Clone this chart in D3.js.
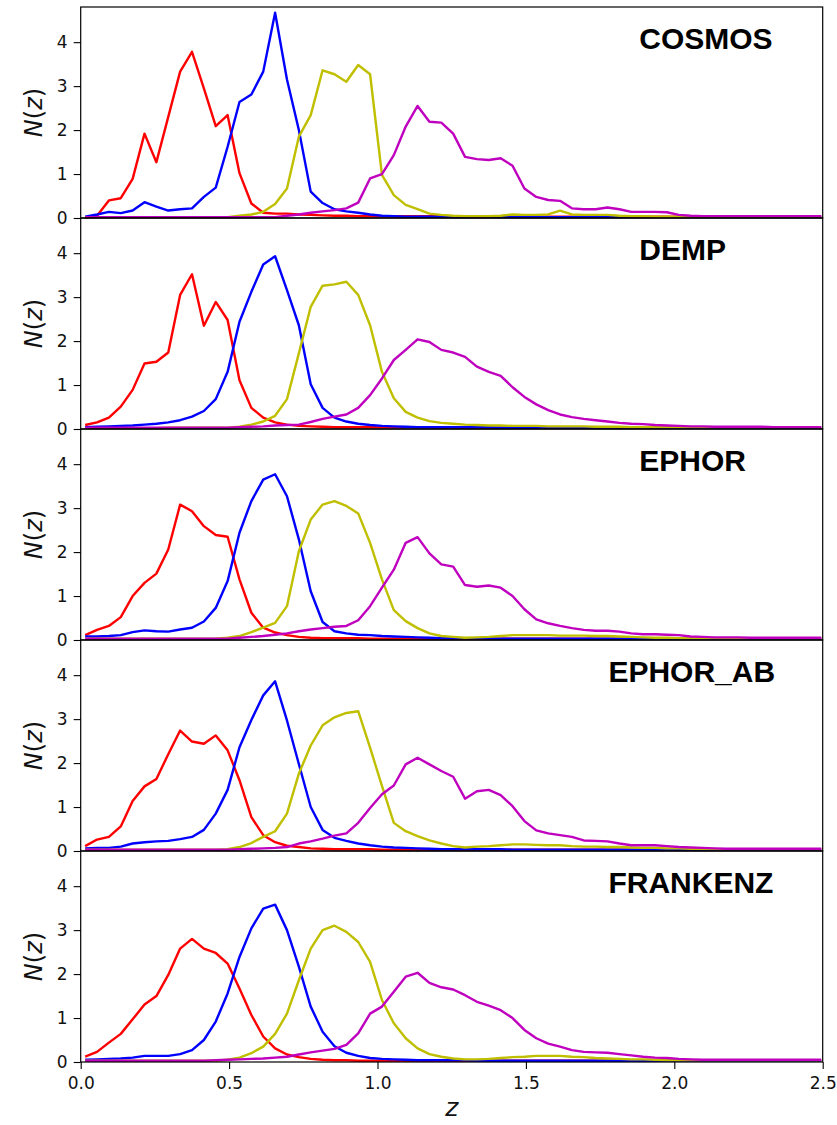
<!DOCTYPE html>
<html>
<head>
<meta charset="utf-8">
<script src="https://cdn.jsdelivr.net/npm/d3@7"></script>
<style>
	body { margin: 0; background: #fff; }
</style>
</head>
<body>
<svg id="nzPlot"></svg>
<script>
// surveys, one panel each, top to bottom
const surveys = ["COSMOS", "DEMP", "EPHOR", "EPHOR_AB", "FRANKENZ"];

// redshift bin centres
const binStart = 0.015, binWidth = 0.04, nBins = 63;
const zBins = d3.range(nBins).map(k => binStart + binWidth * k);

const yTicks = [0, 1, 2, 3, 4];
const xTicks = [0, 0.5, 1.0, 1.5, 2.0, 2.5];

// N(z) per tomographic bin
const cosmosRed = [
	0.01, 0.05, 0.40, 0.45, 0.89, 1.92, 1.27, 2.30, 3.33, 3.78,
	2.95, 2.09, 2.34, 1.02, 0.33, 0.12, 0.10, 0.10, 0.08, 0.07,
	0.06, 0.05, 0.05, 0.04, 0.04, 0.04, 0.04, 0.04, 0.04, 0.04,
	0.04, 0.03, 0.03, 0.03, 0.03, 0.03, 0.03, 0.03, 0.03, 0.03,
	0.03, 0.03, 0.03, 0.03, 0.03, 0.03, 0.03, 0.03, 0.03, 0.03,
	0.03, 0.03, 0.03, 0.03, 0.03, 0.03, 0.03, 0.03, 0.03, 0.03,
	0.03, 0.03, 0.04];
const cosmosBlue = [
	0.03, 0.08, 0.14, 0.11, 0.17, 0.36, 0.26, 0.17, 0.20, 0.22,
	0.48, 0.69, 1.62, 2.64, 2.81, 3.33, 4.67, 3.15, 2.00, 0.60,
	0.34, 0.20, 0.15, 0.12, 0.08, 0.05, 0.04, 0.03, 0.03, 0.03,
	0.03, 0.02, 0.02, 0.02, 0.02, 0.02, 0.02, 0.02, 0.02, 0.02,
	0.02, 0.02, 0.02, 0.02, 0.02, 0.02, 0.02, 0.02, 0.02, 0.02,
	0.02, 0.02, 0.02, 0.02, 0.02, 0.02, 0.02, 0.02, 0.02, 0.02,
	0.02, 0.02, 0.02];
const cosmosYellow = [
	0.02, 0.02, 0.02, 0.02, 0.02, 0.02, 0.02, 0.02, 0.02, 0.02,
	0.02, 0.02, 0.02, 0.05, 0.08, 0.14, 0.32, 0.67, 1.85, 2.34,
	3.36, 3.27, 3.10, 3.48, 3.27, 0.98, 0.52, 0.30, 0.20, 0.10,
	0.07, 0.05, 0.04, 0.04, 0.04, 0.05, 0.08, 0.07, 0.07, 0.08,
	0.17, 0.08, 0.07, 0.07, 0.07, 0.05, 0.04, 0.04, 0.03, 0.03,
	0.03, 0.03, 0.03, 0.03, 0.03, 0.03, 0.03, 0.03, 0.03, 0.03,
	0.03, 0.03, 0.03];
const cosmosMagenta = [
	0.02, 0.02, 0.02, 0.02, 0.02, 0.02, 0.02, 0.02, 0.02, 0.02,
	0.02, 0.02, 0.02, 0.02, 0.02, 0.02, 0.02, 0.05, 0.08, 0.12,
	0.15, 0.18, 0.22, 0.35, 0.90, 1.00, 1.43, 2.08, 2.55, 2.19,
	2.17, 1.92, 1.39, 1.34, 1.32, 1.36, 1.19, 0.67, 0.48, 0.41,
	0.39, 0.22, 0.20, 0.20, 0.24, 0.20, 0.14, 0.14, 0.14, 0.13,
	0.07, 0.05, 0.04, 0.04, 0.04, 0.04, 0.04, 0.04, 0.04, 0.04,
	0.04, 0.04, 0.04];

const dempRed = [
	0.09, 0.15, 0.26, 0.51, 0.89, 1.49, 1.53, 1.74, 3.05, 3.52,
	2.35, 2.89, 2.48, 1.11, 0.48, 0.26, 0.15, 0.10, 0.07, 0.06,
	0.05, 0.04, 0.04, 0.04, 0.04, 0.04, 0.04, 0.04, 0.04, 0.04,
	0.03, 0.03, 0.03, 0.03, 0.03, 0.03, 0.03, 0.03, 0.03, 0.03,
	0.03, 0.03, 0.03, 0.03, 0.03, 0.03, 0.03, 0.03, 0.03, 0.03,
	0.03, 0.03, 0.03, 0.03, 0.03, 0.03, 0.03, 0.03, 0.03, 0.03,
	0.03, 0.03, 0.03];
const dempBlue = [
	0.04, 0.05, 0.06, 0.07, 0.08, 0.10, 0.12, 0.15, 0.20, 0.28,
	0.41, 0.68, 1.30, 2.44, 3.12, 3.74, 3.93, 3.16, 2.36, 1.02,
	0.48, 0.26, 0.17, 0.12, 0.09, 0.07, 0.06, 0.05, 0.04, 0.04,
	0.04, 0.04, 0.04, 0.04, 0.04, 0.03, 0.03, 0.03, 0.03, 0.03,
	0.03, 0.03, 0.03, 0.03, 0.03, 0.03, 0.03, 0.03, 0.03, 0.03,
	0.03, 0.03, 0.03, 0.03, 0.03, 0.03, 0.03, 0.03, 0.03, 0.03,
	0.03, 0.03, 0.03];
const dempYellow = [
	0.02, 0.02, 0.02, 0.02, 0.02, 0.02, 0.02, 0.03, 0.03, 0.03,
	0.03, 0.03, 0.03, 0.05, 0.10, 0.17, 0.30, 0.68, 1.72, 2.78,
	3.26, 3.29, 3.35, 3.05, 2.36, 1.30, 0.70, 0.39, 0.26, 0.18,
	0.14, 0.12, 0.10, 0.09, 0.08, 0.08, 0.07, 0.07, 0.07, 0.06,
	0.06, 0.06, 0.06, 0.05, 0.05, 0.05, 0.04, 0.04, 0.04, 0.04,
	0.04, 0.04, 0.04, 0.04, 0.04, 0.04, 0.04, 0.04, 0.04, 0.04,
	0.04, 0.04, 0.04];
const dempMagenta = [
	0.03, 0.03, 0.03, 0.03, 0.03, 0.03, 0.03, 0.03, 0.03, 0.03,
	0.03, 0.03, 0.03, 0.04, 0.05, 0.06, 0.08, 0.09, 0.10, 0.16,
	0.23, 0.28, 0.33, 0.48, 0.77, 1.15, 1.57, 1.80, 2.04, 1.98,
	1.80, 1.74, 1.64, 1.42, 1.30, 1.21, 0.95, 0.73, 0.56, 0.43,
	0.33, 0.27, 0.23, 0.20, 0.17, 0.14, 0.12, 0.11, 0.09, 0.08,
	0.07, 0.06, 0.06, 0.05, 0.05, 0.05, 0.05, 0.05, 0.04, 0.04,
	0.04, 0.04, 0.04];

const ephorRed = [
	0.11, 0.23, 0.32, 0.52, 1.00, 1.30, 1.51, 2.06, 3.08, 2.93,
	2.59, 2.39, 2.35, 1.38, 0.62, 0.28, 0.17, 0.11, 0.07, 0.05,
	0.04, 0.04, 0.04, 0.04, 0.03, 0.03, 0.03, 0.03, 0.03, 0.03,
	0.03, 0.03, 0.03, 0.03, 0.03, 0.03, 0.03, 0.03, 0.03, 0.03,
	0.03, 0.03, 0.03, 0.03, 0.03, 0.03, 0.03, 0.03, 0.03, 0.03,
	0.03, 0.03, 0.03, 0.03, 0.03, 0.03, 0.03, 0.03, 0.03, 0.03,
	0.03, 0.03, 0.03];
const ephorBlue = [
	0.08, 0.08, 0.09, 0.11, 0.18, 0.22, 0.20, 0.19, 0.24, 0.28,
	0.42, 0.73, 1.34, 2.44, 3.16, 3.65, 3.77, 3.27, 2.29, 1.11,
	0.41, 0.20, 0.15, 0.12, 0.11, 0.09, 0.08, 0.07, 0.06, 0.05,
	0.04, 0.04, 0.04, 0.04, 0.04, 0.03, 0.03, 0.03, 0.03, 0.03,
	0.03, 0.03, 0.03, 0.03, 0.03, 0.03, 0.03, 0.03, 0.03, 0.03,
	0.03, 0.03, 0.03, 0.03, 0.03, 0.03, 0.03, 0.03, 0.03, 0.03,
	0.03, 0.03, 0.03];
const ephorYellow = [
	0.03, 0.03, 0.03, 0.03, 0.03, 0.03, 0.03, 0.03, 0.03, 0.03,
	0.03, 0.03, 0.05, 0.09, 0.18, 0.28, 0.39, 0.77, 2.02, 2.74,
	3.08, 3.16, 3.05, 2.88, 2.21, 1.38, 0.68, 0.43, 0.27, 0.15,
	0.09, 0.07, 0.05, 0.06, 0.07, 0.09, 0.11, 0.11, 0.11, 0.11,
	0.10, 0.10, 0.10, 0.09, 0.09, 0.08, 0.07, 0.06, 0.05, 0.05,
	0.04, 0.04, 0.04, 0.04, 0.04, 0.04, 0.04, 0.04, 0.04, 0.04,
	0.04, 0.04, 0.04];
const ephorMagenta = [
	0.03, 0.03, 0.03, 0.03, 0.03, 0.03, 0.03, 0.03, 0.03, 0.03,
	0.03, 0.03, 0.03, 0.05, 0.07, 0.09, 0.12, 0.15, 0.20, 0.24,
	0.27, 0.30, 0.32, 0.45, 0.77, 1.19, 1.60, 2.21, 2.34, 1.97,
	1.72, 1.67, 1.25, 1.21, 1.24, 1.19, 1.00, 0.70, 0.47, 0.38,
	0.32, 0.27, 0.23, 0.21, 0.21, 0.19, 0.15, 0.13, 0.13, 0.12,
	0.11, 0.08, 0.07, 0.06, 0.06, 0.06, 0.05, 0.05, 0.05, 0.05,
	0.05, 0.05, 0.05];

const ephorAbRed = [
	0.11, 0.26, 0.32, 0.56, 1.14, 1.47, 1.64, 2.20, 2.74, 2.49,
	2.44, 2.63, 2.29, 1.61, 0.77, 0.36, 0.20, 0.12, 0.09, 0.06,
	0.05, 0.04, 0.04, 0.04, 0.04, 0.03, 0.03, 0.03, 0.03, 0.03,
	0.03, 0.03, 0.03, 0.03, 0.03, 0.03, 0.03, 0.03, 0.03, 0.03,
	0.03, 0.03, 0.03, 0.03, 0.03, 0.03, 0.03, 0.03, 0.03, 0.03,
	0.03, 0.03, 0.03, 0.03, 0.03, 0.03, 0.03, 0.03, 0.03, 0.03,
	0.03, 0.03, 0.03];
const ephorAbBlue = [
	0.06, 0.07, 0.07, 0.10, 0.17, 0.20, 0.22, 0.23, 0.27, 0.32,
	0.48, 0.85, 1.39, 2.36, 2.98, 3.54, 3.86, 2.97, 1.98, 1.00,
	0.48, 0.30, 0.23, 0.17, 0.13, 0.10, 0.08, 0.07, 0.06, 0.05,
	0.04, 0.04, 0.04, 0.04, 0.04, 0.04, 0.03, 0.03, 0.03, 0.03,
	0.03, 0.03, 0.03, 0.03, 0.03, 0.03, 0.03, 0.03, 0.03, 0.03,
	0.03, 0.03, 0.03, 0.03, 0.03, 0.03, 0.03, 0.03, 0.03, 0.03,
	0.03, 0.03, 0.03];
const ephorAbYellow = [
	0.03, 0.03, 0.03, 0.03, 0.03, 0.03, 0.03, 0.03, 0.03, 0.03,
	0.03, 0.03, 0.04, 0.09, 0.18, 0.32, 0.45, 0.85, 1.76, 2.40,
	2.86, 3.04, 3.14, 3.18, 2.35, 1.48, 0.64, 0.45, 0.34, 0.24,
	0.17, 0.11, 0.08, 0.10, 0.11, 0.13, 0.15, 0.15, 0.14, 0.13,
	0.13, 0.11, 0.10, 0.10, 0.09, 0.09, 0.08, 0.07, 0.07, 0.06,
	0.06, 0.05, 0.05, 0.04, 0.04, 0.04, 0.04, 0.04, 0.04, 0.04,
	0.04, 0.04, 0.04];
const ephorAbMagenta = [
	0.03, 0.03, 0.03, 0.03, 0.03, 0.03, 0.03, 0.03, 0.03, 0.03,
	0.03, 0.03, 0.03, 0.04, 0.05, 0.06, 0.07, 0.09, 0.17, 0.22,
	0.28, 0.35, 0.40, 0.64, 0.98, 1.29, 1.49, 1.97, 2.12, 1.97,
	1.82, 1.69, 1.19, 1.36, 1.39, 1.27, 1.02, 0.68, 0.47, 0.40,
	0.36, 0.32, 0.24, 0.23, 0.22, 0.17, 0.13, 0.13, 0.13, 0.11,
	0.09, 0.08, 0.07, 0.06, 0.05, 0.05, 0.05, 0.05, 0.05, 0.05,
	0.05, 0.05, 0.05];

const frankenzRed = [
	0.12, 0.23, 0.44, 0.64, 0.97, 1.31, 1.50, 1.98, 2.58, 2.80,
	2.58, 2.48, 2.24, 1.67, 1.07, 0.58, 0.31, 0.17, 0.11, 0.07,
	0.05, 0.04, 0.04, 0.03, 0.03, 0.03, 0.03, 0.03, 0.03, 0.03,
	0.03, 0.03, 0.03, 0.03, 0.03, 0.03, 0.03, 0.03, 0.03, 0.03,
	0.03, 0.03, 0.03, 0.03, 0.03, 0.03, 0.03, 0.03, 0.03, 0.03,
	0.03, 0.03, 0.03, 0.03, 0.03, 0.03, 0.03, 0.03, 0.03, 0.03,
	0.03, 0.03, 0.03];
const frankenzBlue = [
	0.05, 0.06, 0.07, 0.08, 0.10, 0.14, 0.14, 0.14, 0.18, 0.27,
	0.50, 0.92, 1.56, 2.39, 3.04, 3.49, 3.58, 3.00, 2.17, 1.26,
	0.69, 0.36, 0.21, 0.14, 0.09, 0.07, 0.06, 0.05, 0.04, 0.04,
	0.04, 0.04, 0.04, 0.03, 0.03, 0.03, 0.03, 0.03, 0.03, 0.03,
	0.03, 0.03, 0.03, 0.03, 0.03, 0.03, 0.03, 0.03, 0.03, 0.03,
	0.03, 0.03, 0.03, 0.03, 0.03, 0.03, 0.03, 0.03, 0.03, 0.03,
	0.03, 0.03, 0.03];
const frankenzYellow = [
	0.03, 0.03, 0.03, 0.03, 0.03, 0.03, 0.03, 0.03, 0.03, 0.03,
	0.03, 0.03, 0.05, 0.10, 0.20, 0.35, 0.64, 1.10, 1.86, 2.58,
	3.00, 3.10, 2.96, 2.73, 2.28, 1.41, 0.88, 0.54, 0.31, 0.18,
	0.12, 0.08, 0.06, 0.06, 0.07, 0.09, 0.11, 0.12, 0.14, 0.14,
	0.14, 0.12, 0.11, 0.09, 0.08, 0.07, 0.06, 0.06, 0.05, 0.04,
	0.04, 0.04, 0.04, 0.04, 0.04, 0.04, 0.04, 0.04, 0.04, 0.04,
	0.04, 0.04, 0.04];
const frankenzMagenta = [
	0.03, 0.03, 0.03, 0.03, 0.03, 0.03, 0.03, 0.03, 0.03, 0.03,
	0.03, 0.04, 0.05, 0.06, 0.07, 0.08, 0.10, 0.12, 0.17, 0.22,
	0.26, 0.30, 0.39, 0.65, 1.10, 1.26, 1.60, 1.94, 2.03, 1.80,
	1.70, 1.65, 1.52, 1.37, 1.28, 1.18, 1.00, 0.73, 0.54, 0.42,
	0.35, 0.27, 0.23, 0.22, 0.21, 0.18, 0.15, 0.12, 0.10, 0.09,
	0.07, 0.06, 0.05, 0.05, 0.05, 0.05, 0.05, 0.05, 0.05, 0.05,
	0.05, 0.05, 0.05];

const panelSeries = [
	[cosmosRed, cosmosBlue, cosmosYellow, cosmosMagenta],
	[dempRed, dempBlue, dempYellow, dempMagenta],
	[ephorRed, ephorBlue, ephorYellow, ephorMagenta],
	[ephorAbRed, ephorAbBlue, ephorAbYellow, ephorAbMagenta],
	[frankenzRed, frankenzBlue, frankenzYellow, frankenzMagenta]
];

// ---- layout / style ----
const lineColors = ["#ff0000", "#0000ff", "#bfbf00", "#bf00bf"];
const titleZ = [1.882, 1.882, 1.882, 1.778, 1.778];
const width = 837, height = 1125;
const margin = { top: 7, left: 80.7, right: 14.3 };
const panelH = 211;
const tickFont = "17px 'DejaVu Sans', sans-serif";

var svg = d3.select("#nzPlot")
	.attr("width", width)
	.attr("height", height)
	.style("background", "#fff");

const x = d3.scaleLinear()
	.domain([0, 2.5])
	.range([margin.left, width - margin.right]);

const line = d3.line()
	.x((d, k) => x(zBins[k]))
	.y(d => d);

surveys.forEach((name, i) => {
	const top = margin.top + panelH * i;
	const y = d3.scaleLinear()
		.domain([0, 4.8])
		.range([top + panelH, top]);

	const g = svg.append("g").attr("class", "panel");

	// the four curves
	panelSeries[i].forEach((s, j) => {
		g.append("path")
			.attr("d", line(s.map(v => y(v))))
			.attr("fill", "none")
			.attr("stroke", lineColors[j])
			.attr("stroke-width", 2.4)
			.attr("stroke-linejoin", "round");
	});

	// y axis
	g.append("g")
		.attr("transform", `translate(${x(0)},0)`)
		.call(d3.axisLeft(y).tickValues(yTicks).tickSize(7).tickPadding(6).tickFormat(d3.format("d")))
		.call(a => a.select(".domain").remove())
		.call(a => a.selectAll("line").attr("stroke", "#000").attr("stroke-width", 1.1))
		.selectAll("text")
		.style("font", tickFont)
		.attr("fill", "#111");

	// frame
	g.append("rect")
		.attr("x", x(0))
		.attr("y", top)
		.attr("width", x(2.5) - x(0))
		.attr("height", panelH)
		.attr("fill", "none")
		.attr("stroke", "#000")
		.attr("stroke-width", 1.2);

	// survey name
	g.append("text")
		.attr("x", x(titleZ[i]))
		.attr("y", top + 42)
		.style("font", "bold 30px 'Liberation Sans', Arial, sans-serif")
		.attr("fill", "#000")
		.text(name);

	// N(z) label
	const lab = g.append("text")
		.attr("transform", `translate(42,${top + panelH / 2}) rotate(-90)`)
		.attr("text-anchor", "middle")
		.style("font", "24px 'DejaVu Sans', sans-serif")
		.attr("fill", "#111");
	lab.append("tspan").style("font-style", "italic").text("N");
	lab.append("tspan").text("(");
	lab.append("tspan").style("font-style", "italic").text("z");
	lab.append("tspan").text(")");

	// shared x axis on the bottom panel only
	if (i === surveys.length - 1) {
		g.append("g")
			.attr("transform", `translate(0,${top + panelH})`)
			.call(d3.axisBottom(x).tickValues(xTicks).tickSize(7).tickPadding(8).tickFormat(d3.format(".1f")))
			.call(a => a.select(".domain").remove())
			.call(a => a.selectAll("line").attr("stroke", "#000").attr("stroke-width", 1.1))
			.selectAll("text")
			.style("font", tickFont)
			.attr("fill", "#111");

		svg.append("text")
			.attr("x", (x(0) + x(2.5)) / 2)
			.attr("y", top + panelH + 54)
			.attr("text-anchor", "middle")
			.style("font", "italic 25px 'DejaVu Sans', sans-serif")
			.attr("fill", "#111")
			.text("z");
	}
});
</script>
</body>
</html>
